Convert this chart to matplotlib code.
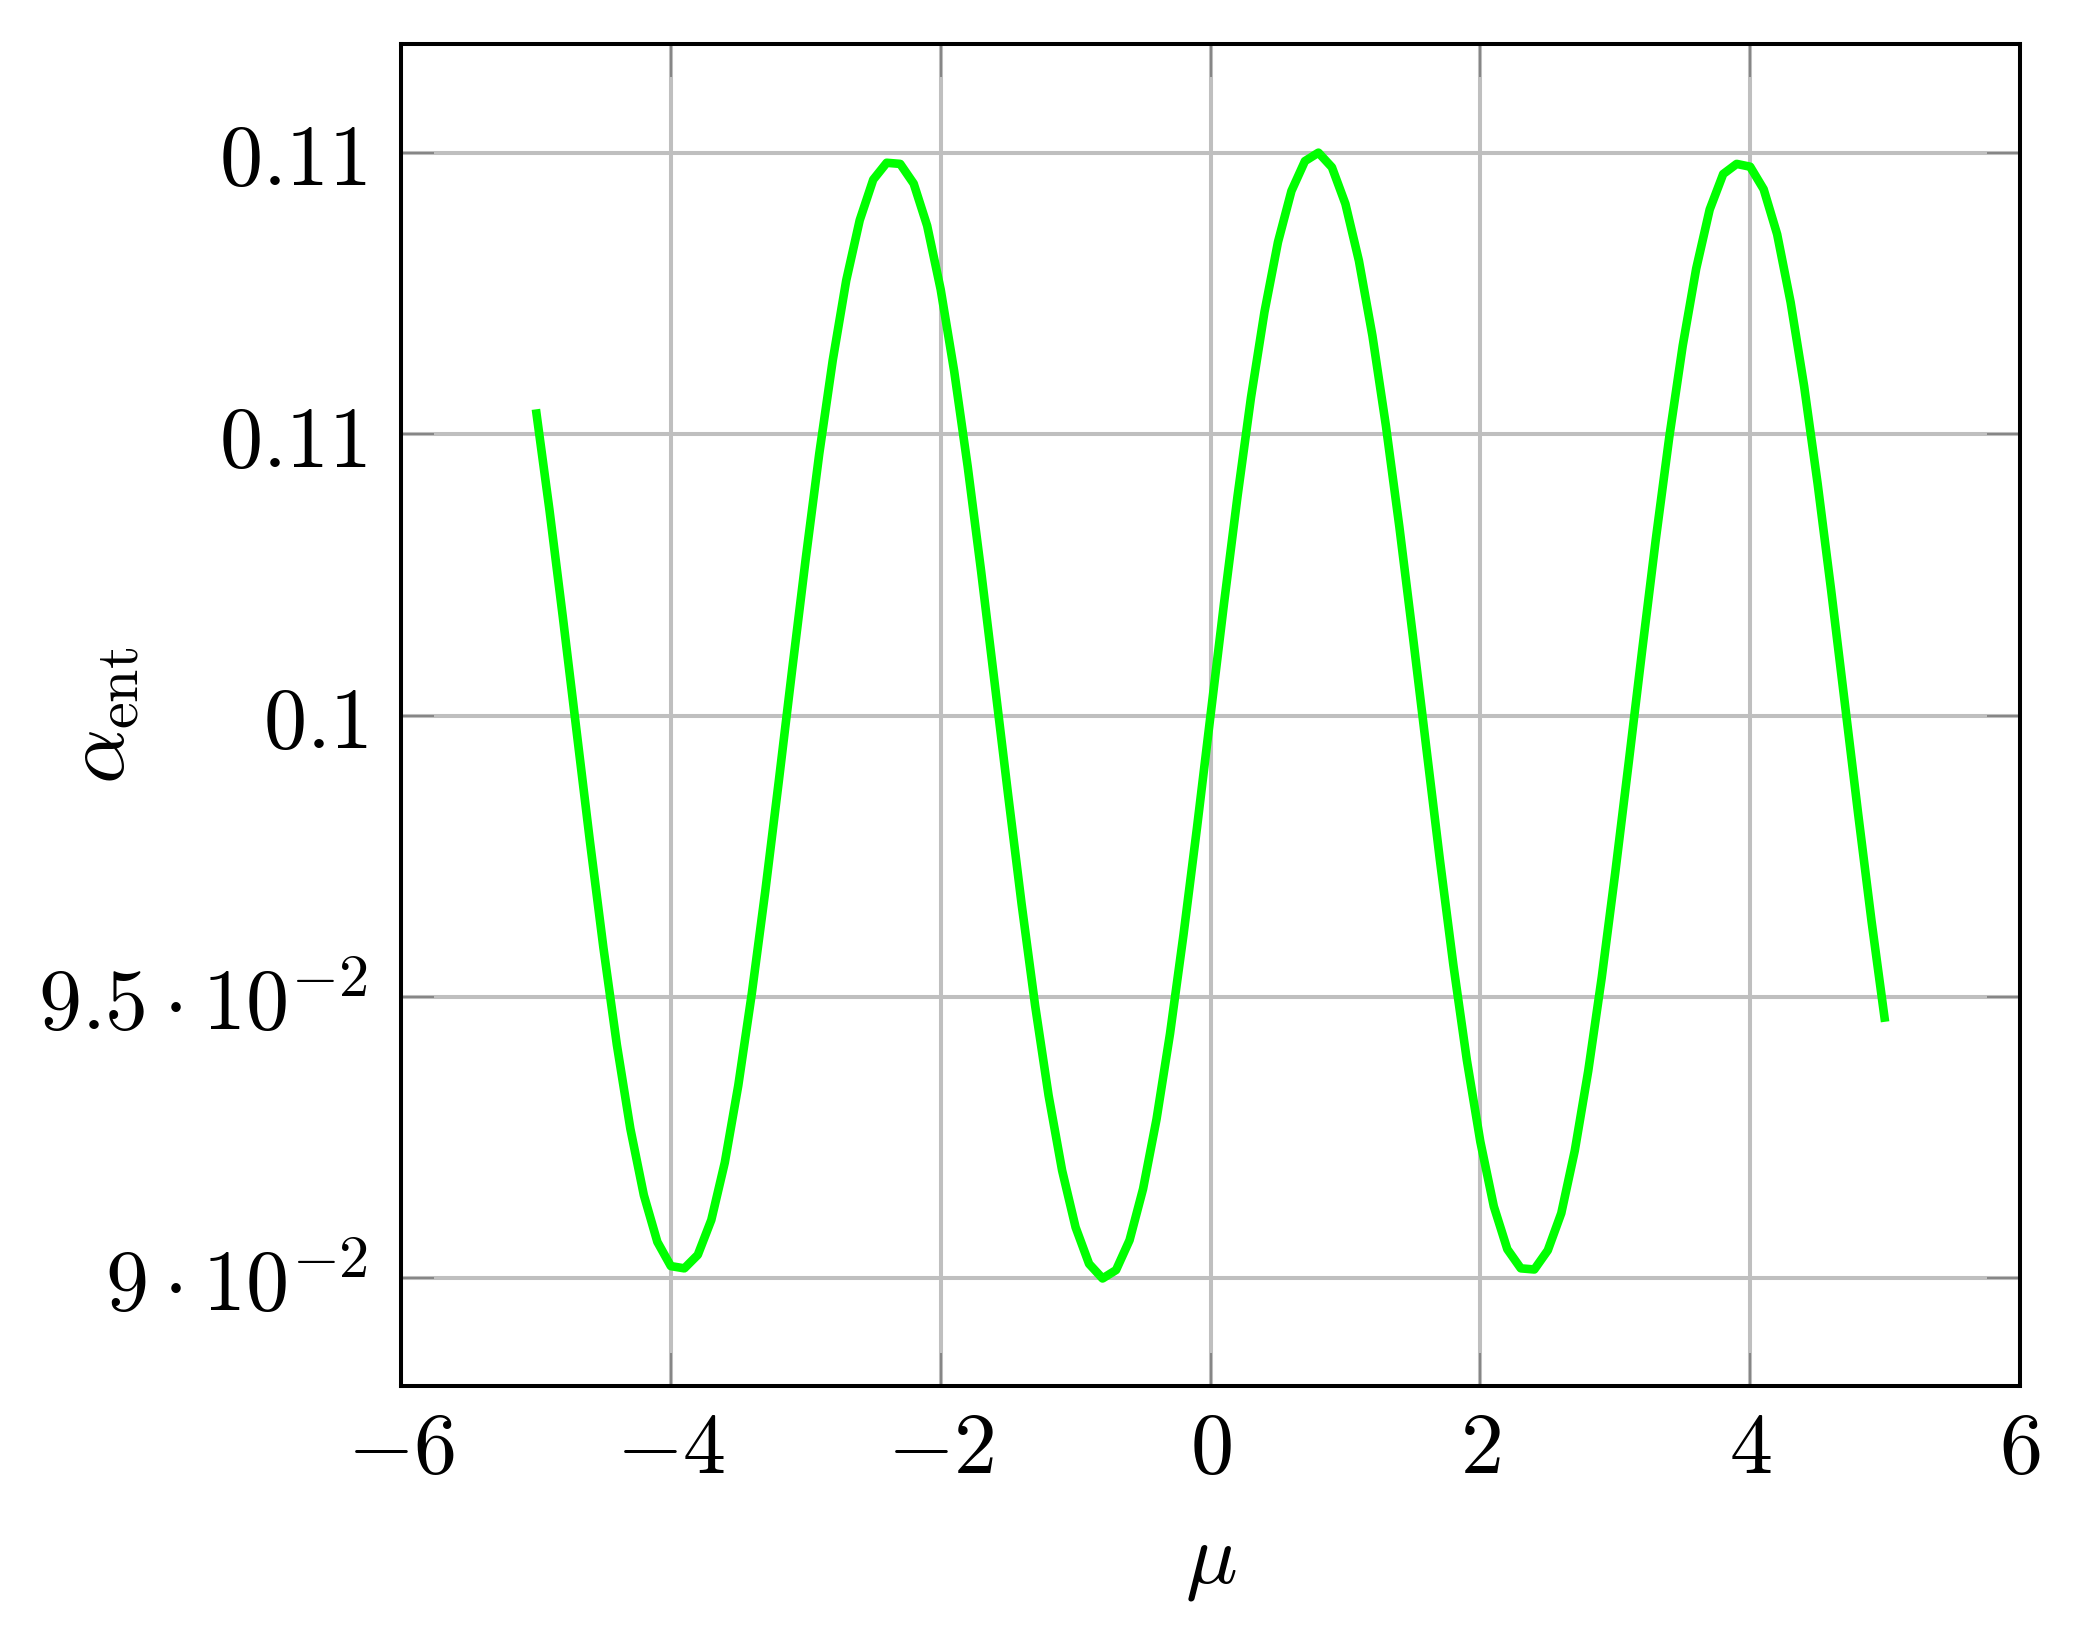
import matplotlib
matplotlib.use("Agg")
import matplotlib.pyplot as plt
from matplotlib.ticker import FixedLocator, FixedFormatter

# ---- data ----
mu = [-5.0, -4.9, -4.8, -4.7, -4.6, -4.5, -4.4, -4.3, -4.2, -4.1,
      -4.0, -3.9, -3.8, -3.7, -3.6, -3.5, -3.4, -3.3, -3.2, -3.1,
      -3.0, -2.9, -2.8, -2.7, -2.6, -2.5, -2.4, -2.3, -2.2, -2.1,
      -2.0, -1.9, -1.8, -1.7, -1.6, -1.5, -1.4, -1.3, -1.2, -1.1,
      -1.0, -0.9, -0.8, -0.7, -0.6, -0.5, -0.4, -0.3, -0.2, -0.1,
      0.0, 0.1, 0.2, 0.3, 0.4, 0.5, 0.6, 0.7, 0.8, 0.9,
      1.0, 1.1, 1.2, 1.3, 1.4, 1.5, 1.6, 1.7, 1.8, 1.9,
      2.0, 2.1, 2.2, 2.3, 2.4, 2.5, 2.6, 2.7, 2.8, 2.9,
      3.0, 3.1, 3.2, 3.3, 3.4, 3.5, 3.6, 3.7, 3.8, 3.9,
      4.0, 4.1, 4.2, 4.3, 4.4, 4.5, 4.6, 4.7, 4.8, 4.9, 5.0]
alpha_ent = [0.10544, 0.10366, 0.10174, 0.09975, 0.09777, 0.09588, 0.09415, 0.09266, 0.09148, 0.09065,
             0.09022, 0.09018, 0.09042, 0.09104, 0.09206, 0.09343, 0.09506, 0.09688, 0.09883, 0.10083,
             0.10279, 0.10465, 0.10631, 0.10773, 0.10880, 0.10952, 0.10982, 0.10980, 0.10945, 0.10870,
             0.10757, 0.10612, 0.10443, 0.10256, 0.10058, 0.09859, 0.09665, 0.09485, 0.09325, 0.09192,
             0.09091, 0.09026, 0.09000, 0.09015, 0.09068, 0.09159, 0.09283, 0.09435, 0.09611, 0.09801,
             0.10000, 0.10199, 0.10389, 0.10565, 0.10717, 0.10841, 0.10932, 0.10985, 0.11000, 0.10974,
             0.10909, 0.10808, 0.10675, 0.10515, 0.10335, 0.10141, 0.09942, 0.09744, 0.09557, 0.09388,
             0.09243, 0.09128, 0.09052, 0.09018, 0.09016, 0.09050, 0.09116, 0.09227, 0.09369, 0.09535,
             0.09721, 0.09917, 0.10117, 0.10312, 0.10494, 0.10657, 0.10794, 0.10899, 0.10962, 0.10980,
             0.10975, 0.10935, 0.10855, 0.10734, 0.10585, 0.10412, 0.10223, 0.10025, 0.09826, 0.09634, 0.09456]

x_ticks = [-6, -4, -2, 0, 2, 4, 6]
x_tick_labels = [r"$-6$", r"$-4$", r"$-2$", r"$0$", r"$2$", r"$4$", r"$6$"]
y_ticks = [0.09, 0.095, 0.1, 0.105, 0.11]
y_tick_labels = [r"$9\cdot10^{-2}$", r"$9.5\cdot10^{-2}$", r"$0.1$", r"$0.11$", r"$0.11$"]
x_label = r"$\mu$"
y_label = r"$\alpha_{\mathrm{ent}}$"

plt.rcParams["mathtext.fontset"] = "cm"
plt.rcParams["font.family"] = ["DejaVu Serif"]

FS = 62

fig = plt.figure(figsize=(20.84, 16.26), dpi=100)
ax = fig.add_axes([401/2084, 1 - 1386/1626, (2020-401)/2084, (1386-44)/1626])

ax.plot(mu, alpha_ent, color="#00ff00", lw=6.2, zorder=3,
        solid_joinstyle="round", solid_capstyle="butt")

ax.set_xlim(-6, 6)
ax.set_ylim(0.08809, 0.11193)
ax.xaxis.set_major_locator(FixedLocator(x_ticks))
ax.xaxis.set_major_formatter(FixedFormatter(x_tick_labels))
ax.yaxis.set_major_locator(FixedLocator(y_ticks))
ax.yaxis.set_major_formatter(FixedFormatter(y_tick_labels))

ax.grid(True, color="#bfbfbf", lw=2.9, zorder=1)
ax.set_axisbelow(True)
ax.tick_params(direction="in", length=24, width=1.3, color="#808080",
               top=True, right=True, labelsize=FS)
ax.tick_params(axis="x", pad=16)
ax.tick_params(axis="y", pad=24)
for s in ax.spines.values():
    s.set_linewidth(2.9)
    s.set_color("black")
    s.set_zorder(4)

ax.set_xlabel(x_label, fontsize=FS, va="center")
ax.xaxis.set_label_coords(0.5, -0.131)
ax.set_ylabel(y_label, fontsize=FS, va="center")
ax.yaxis.set_label_coords(-0.186, 0.5)

fig.savefig("out.png", dpi=100)
